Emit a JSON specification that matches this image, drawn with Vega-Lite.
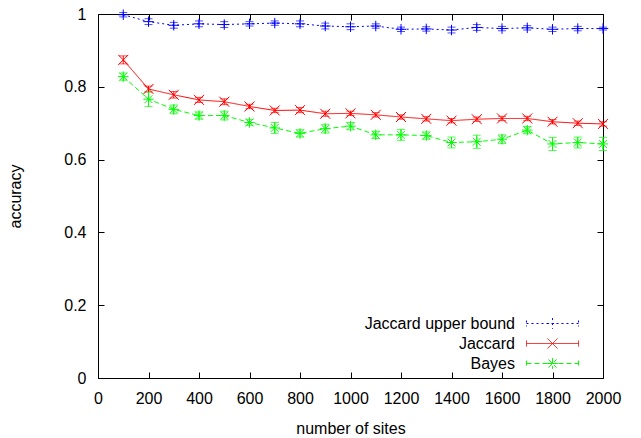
{
  "$schema": "https://vega.github.io/schema/vega-lite/v6.json",
  "width": 505,
  "height": 364,
  "autosize": {"type": "none"},
  "padding": {"left": 98, "top": 14, "right": 38, "bottom": 60},
  "background": "white",
  "config": {
    "font": "Liberation Sans",
    "view": {"stroke": "#000", "strokeWidth": 1},
    "axis": {
      "labelFont": "Liberation Sans",
      "labelFontSize": 16,
      "labelColor": "#000",
      "titleFont": "Liberation Sans",
      "titleFontSize": 16,
      "titleFontWeight": "normal",
      "titleColor": "#000",
      "tickColor": "#000",
      "tickSize": -6,
      "domain": false,
      "grid": false,
      "labelOverlap": false,
      "labelFlush": false
    }
  },
  "data": {
    "values": [
      {"sites": 100, "series": "Jaccard upper bound", "acc": 0.998, "lo": 0.992, "hi": 1.004},
      {"sites": 200, "series": "Jaccard upper bound", "acc": 0.979, "lo": 0.971, "hi": 0.987},
      {"sites": 300, "series": "Jaccard upper bound", "acc": 0.969, "lo": 0.961, "hi": 0.977},
      {"sites": 400, "series": "Jaccard upper bound", "acc": 0.973, "lo": 0.965, "hi": 0.981},
      {"sites": 500, "series": "Jaccard upper bound", "acc": 0.971, "lo": 0.963, "hi": 0.979},
      {"sites": 600, "series": "Jaccard upper bound", "acc": 0.973, "lo": 0.967, "hi": 0.979},
      {"sites": 700, "series": "Jaccard upper bound", "acc": 0.975, "lo": 0.969, "hi": 0.981},
      {"sites": 800, "series": "Jaccard upper bound", "acc": 0.973, "lo": 0.965, "hi": 0.981},
      {"sites": 900, "series": "Jaccard upper bound", "acc": 0.967, "lo": 0.959, "hi": 0.975},
      {"sites": 1000, "series": "Jaccard upper bound", "acc": 0.965, "lo": 0.957, "hi": 0.973},
      {"sites": 1100, "series": "Jaccard upper bound", "acc": 0.967, "lo": 0.961, "hi": 0.973},
      {"sites": 1200, "series": "Jaccard upper bound", "acc": 0.958, "lo": 0.952, "hi": 0.964},
      {"sites": 1300, "series": "Jaccard upper bound", "acc": 0.959, "lo": 0.953, "hi": 0.965},
      {"sites": 1400, "series": "Jaccard upper bound", "acc": 0.956, "lo": 0.948, "hi": 0.964},
      {"sites": 1500, "series": "Jaccard upper bound", "acc": 0.963, "lo": 0.955, "hi": 0.971},
      {"sites": 1600, "series": "Jaccard upper bound", "acc": 0.960, "lo": 0.954, "hi": 0.966},
      {"sites": 1700, "series": "Jaccard upper bound", "acc": 0.962, "lo": 0.956, "hi": 0.968},
      {"sites": 1800, "series": "Jaccard upper bound", "acc": 0.958, "lo": 0.952, "hi": 0.964},
      {"sites": 1900, "series": "Jaccard upper bound", "acc": 0.960, "lo": 0.954, "hi": 0.966},
      {"sites": 2000, "series": "Jaccard upper bound", "acc": 0.960, "lo": 0.956, "hi": 0.964},
      {"sites": 100, "series": "Jaccard", "acc": 0.874, "lo": 0.863, "hi": 0.885},
      {"sites": 200, "series": "Jaccard", "acc": 0.794, "lo": 0.786, "hi": 0.802},
      {"sites": 300, "series": "Jaccard", "acc": 0.778, "lo": 0.769, "hi": 0.787},
      {"sites": 400, "series": "Jaccard", "acc": 0.764, "lo": 0.757, "hi": 0.771},
      {"sites": 500, "series": "Jaccard", "acc": 0.759, "lo": 0.751, "hi": 0.767},
      {"sites": 600, "series": "Jaccard", "acc": 0.746, "lo": 0.740, "hi": 0.752},
      {"sites": 700, "series": "Jaccard", "acc": 0.735, "lo": 0.729, "hi": 0.741},
      {"sites": 800, "series": "Jaccard", "acc": 0.736, "lo": 0.729, "hi": 0.743},
      {"sites": 900, "series": "Jaccard", "acc": 0.726, "lo": 0.719, "hi": 0.733},
      {"sites": 1000, "series": "Jaccard", "acc": 0.727, "lo": 0.721, "hi": 0.733},
      {"sites": 1100, "series": "Jaccard", "acc": 0.723, "lo": 0.717, "hi": 0.729},
      {"sites": 1200, "series": "Jaccard", "acc": 0.717, "lo": 0.711, "hi": 0.723},
      {"sites": 1300, "series": "Jaccard", "acc": 0.712, "lo": 0.706, "hi": 0.718},
      {"sites": 1400, "series": "Jaccard", "acc": 0.707, "lo": 0.701, "hi": 0.713},
      {"sites": 1500, "series": "Jaccard", "acc": 0.711, "lo": 0.705, "hi": 0.717},
      {"sites": 1600, "series": "Jaccard", "acc": 0.713, "lo": 0.707, "hi": 0.719},
      {"sites": 1700, "series": "Jaccard", "acc": 0.713, "lo": 0.707, "hi": 0.719},
      {"sites": 1800, "series": "Jaccard", "acc": 0.704, "lo": 0.698, "hi": 0.710},
      {"sites": 1900, "series": "Jaccard", "acc": 0.700, "lo": 0.694, "hi": 0.706},
      {"sites": 2000, "series": "Jaccard", "acc": 0.698, "lo": 0.692, "hi": 0.704},
      {"sites": 100, "series": "Bayes", "acc": 0.828, "lo": 0.818, "hi": 0.838},
      {"sites": 200, "series": "Bayes", "acc": 0.766, "lo": 0.746, "hi": 0.786},
      {"sites": 300, "series": "Bayes", "acc": 0.738, "lo": 0.726, "hi": 0.750},
      {"sites": 400, "series": "Bayes", "acc": 0.721, "lo": 0.711, "hi": 0.731},
      {"sites": 500, "series": "Bayes", "acc": 0.721, "lo": 0.709, "hi": 0.733},
      {"sites": 600, "series": "Bayes", "acc": 0.702, "lo": 0.694, "hi": 0.710},
      {"sites": 700, "series": "Bayes", "acc": 0.687, "lo": 0.672, "hi": 0.702},
      {"sites": 800, "series": "Bayes", "acc": 0.672, "lo": 0.662, "hi": 0.682},
      {"sites": 900, "series": "Bayes", "acc": 0.685, "lo": 0.673, "hi": 0.697},
      {"sites": 1000, "series": "Bayes", "acc": 0.692, "lo": 0.682, "hi": 0.702},
      {"sites": 1100, "series": "Bayes", "acc": 0.668, "lo": 0.658, "hi": 0.678},
      {"sites": 1200, "series": "Bayes", "acc": 0.668, "lo": 0.653, "hi": 0.683},
      {"sites": 1300, "series": "Bayes", "acc": 0.666, "lo": 0.656, "hi": 0.676},
      {"sites": 1400, "series": "Bayes", "acc": 0.647, "lo": 0.632, "hi": 0.662},
      {"sites": 1500, "series": "Bayes", "acc": 0.649, "lo": 0.631, "hi": 0.667},
      {"sites": 1600, "series": "Bayes", "acc": 0.656, "lo": 0.644, "hi": 0.668},
      {"sites": 1700, "series": "Bayes", "acc": 0.681, "lo": 0.671, "hi": 0.691},
      {"sites": 1800, "series": "Bayes", "acc": 0.643, "lo": 0.625, "hi": 0.661},
      {"sites": 1900, "series": "Bayes", "acc": 0.647, "lo": 0.632, "hi": 0.662},
      {"sites": 2000, "series": "Bayes", "acc": 0.643, "lo": 0.625, "hi": 0.661}
    ]
  },
  "layer": [
    {
      "mark": {"type": "line", "strokeWidth": 1},
      "encoding": {
        "x": {
          "field": "sites", "type": "quantitative",
          "scale": {"domain": [0, 2000], "nice": false},
          "axis": {"orient": "bottom", "values": [0,200,400,600,800,1000,1200,1400,1600,1800,2000], "format": "d", "title": "number of sites", "labelPadding": 18, "titlePadding": 14}
        },
        "y": {
          "field": "acc", "type": "quantitative",
          "scale": {"domain": [0, 1], "nice": false, "zero": false},
          "axis": {"orient": "left", "values": [0,0.2,0.4,0.6,0.8,1], "format": "~g", "title": "accuracy", "labelPadding": 18, "titlePadding": 40}
        },
        "color": {
          "field": "series", "type": "nominal",
          "scale": {"domain": ["Jaccard upper bound", "Jaccard", "Bayes"], "range": ["#0000ff", "#ff0000", "#00ff00"]},
          "legend": {
            "title": null,
            "orient": "none",
            "legendX": 445,
            "legendY": 300,
            "labelAlign": "right",
            "labelOffset": -47,
            "labelFont": "Liberation Sans",
            "labelFontSize": 16,
            "labelColor": "#000",
            "labelLimit": 400,
            "rowPadding": 2,
            "symbolSize": 324,
            "symbolStrokeWidth": 1,
            "symbolOpacity": 1,
            "symbolFillColor": "transparent",
            "encode": {
              "symbols": {
                "update": {
                  "shape": {"signal": "datum.value == 'Jaccard upper bound' ? 'M-2.89,0H2.89M-2.89,-0.33V0.33M2.89,-0.33V0.33M-0.6,0H0.6M0,-0.6V0.6' : datum.value == 'Jaccard' ? 'M-2.89,0H2.89M-2.89,-0.33V0.33M2.89,-0.33V0.33M-0.55,-0.55L0.55,0.55M-0.55,0.55L0.55,-0.55' : 'M-2.89,0H2.89M-2.89,-0.33V0.33M2.89,-0.33V0.33M-0.6,0H0.6M0,-0.6V0.6M-0.45,-0.45L0.45,0.45M-0.45,0.45L0.45,-0.45'"},
                  "strokeDash": {"signal": "datum.value == 'Jaccard' ? [] : datum.value == 'Bayes' ? [4,2] : [2,2]"},
                  "fill": {"value": "transparent"}
                }
              }
            }
          }
        },
        "strokeDash": {
          "field": "series", "type": "nominal",
          "scale": {"domain": ["Jaccard upper bound", "Jaccard", "Bayes"], "range": [[2,3],[1,0],[5,3]]},
          "legend": null
        }
      }
    },
    {
      "mark": {"type": "errorbar", "ticks": {"size": 8}, "thickness": 1},
      "encoding": {
        "x": {"field": "sites", "type": "quantitative", "axis": null},
        "y": {"field": "lo", "type": "quantitative", "axis": null},
        "y2": {"field": "hi"},
        "color": {"field": "series", "type": "nominal"}
      }
    },
    {
      "transform": [{"filter": "datum.series == 'Jaccard upper bound'"}],
      "mark": {"type": "point", "filled": false, "size": 110, "strokeWidth": 1, "opacity": 1, "shape": "M-1,0H1M0,-1V1"},
      "encoding": {
        "x": {
          "field": "sites", "type": "quantitative",
          "axis": {"orient": "top", "values": [0,200,400,600,800,1000,1200,1400,1600,1800,2000], "labels": false, "title": null}
        },
        "y": {
          "field": "acc", "type": "quantitative",
          "axis": {"orient": "right", "values": [0,0.2,0.4,0.6,0.8,1], "labels": false, "title": null}
        },
        "color": {"field": "series", "type": "nominal"}
      }
    },
    {
      "transform": [{"filter": "datum.series == 'Jaccard'"}],
      "mark": {"type": "point", "filled": false, "size": 100, "strokeWidth": 1, "opacity": 1, "shape": "M-1,-1L1,1M-1,1L1,-1"},
      "encoding": {
        "x": {"field": "sites", "type": "quantitative", "axis": null},
        "y": {"field": "acc", "type": "quantitative", "axis": null},
        "color": {"field": "series", "type": "nominal"}
      }
    },
    {
      "transform": [{"filter": "datum.series == 'Bayes'"}],
      "mark": {"type": "point", "filled": false, "size": 110, "strokeWidth": 1, "opacity": 1, "shape": "M-1,0H1M0,-1V1M-0.75,-0.75L0.75,0.75M-0.75,0.75L0.75,-0.75"},
      "encoding": {
        "x": {"field": "sites", "type": "quantitative", "axis": null},
        "y": {"field": "acc", "type": "quantitative", "axis": null},
        "color": {"field": "series", "type": "nominal"}
      }
    }
  ],
  "resolve": {"axis": {"x": "independent", "y": "independent"}}
}
